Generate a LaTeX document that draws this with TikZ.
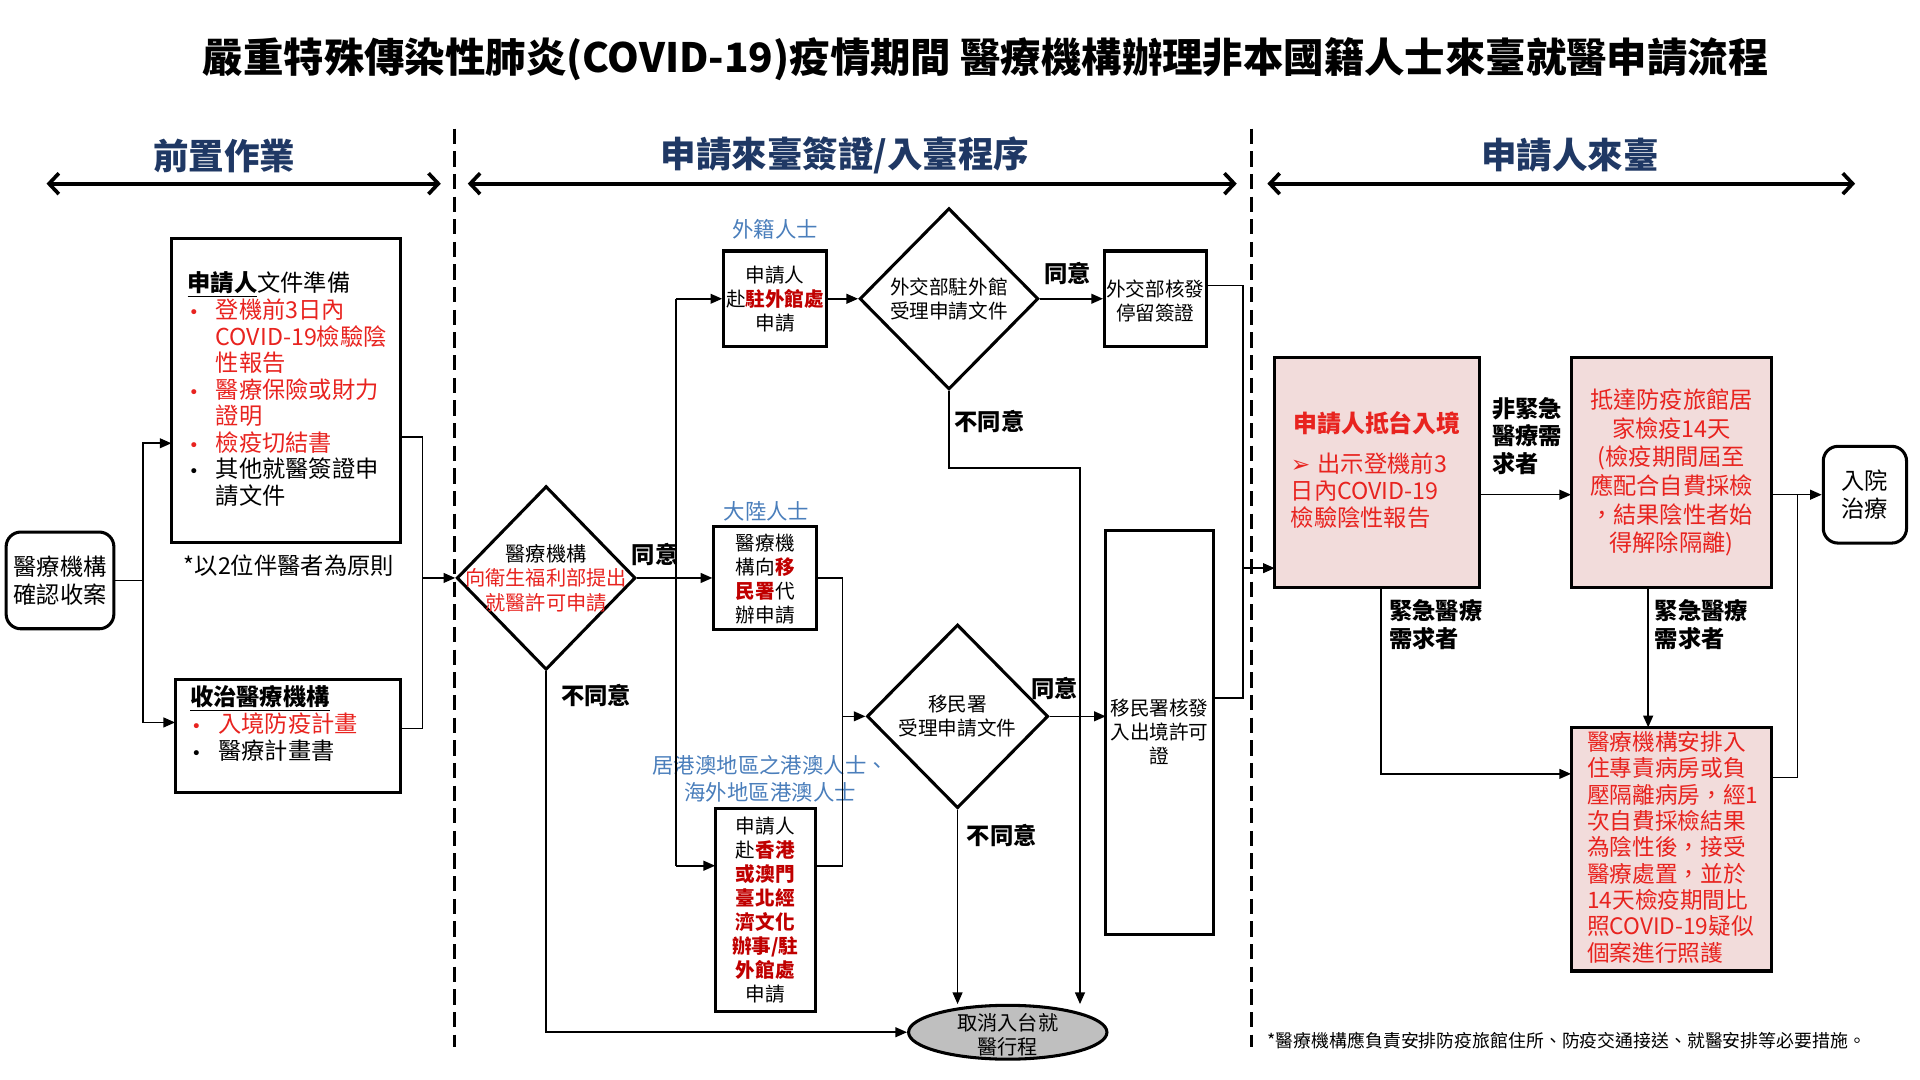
\documentclass[tikz,border=0pt]{standalone}
\usepackage{fontspec}
\setmainfont{Noto Sans CJK TC}
\newfontfamily\dejavu{DejaVu Sans}
\usetikzlibrary{shapes.geometric,arrows.meta}
\definecolor{hdrblue}{HTML}{1F3864}
\definecolor{lblue}{HTML}{4A7EBB}
\definecolor{tred}{HTML}{E8231F}
\definecolor{dred}{HTML}{C00000}
\definecolor{pinkf}{HTML}{F2DCDB}
\definecolor{cgray}{HTML}{BFBFBF}
\newcommand\myb{\makebox[23pt][l]{\hspace{1pt}{\dejavu\fontsize{14}{14}\selectfont •}}}
\newcommand\myi{\hspace*{23pt}}
\newcommand\rb[1]{{\bfseries\color{dred}#1}}
\begin{document}
\begin{tikzpicture}[x=1pt,y=-1pt,
  box/.style={draw, line width=2.5pt, inner sep=0pt},
  pbox/.style={box, fill=pinkf},
  dia/.style={draw, diamond, line width=2.5pt, inner sep=0pt, fill=white},
  ln/.style={line width=1.3pt},
  arr/.style={ln, -{Triangle[length=9.5pt,width=8pt]}},
  dbl/.style={line width=3pt, {Straight Barb[length=8pt,width=17pt]}-{Straight Barb[length=8pt,width=17pt]}},
  divl/.style={line width=2.5pt, dash pattern=on 12.5pt off 6pt},
  hdr/.style={font=\fontsize{29}{32}\selectfont\bfseries, text=hdrblue},
  lab/.style={font=\fontsize{19}{22.5}\selectfont\bfseries, align=left},
  btx/.style={font=\fontsize{16}{19.6}\selectfont, align=center, inner sep=0pt},
  bl/.style={font=\fontsize{17.5}{22}\selectfont, text=lblue, align=center, inner sep=0pt},
  rtx/.style={font=\fontsize{19}{23.4}\selectfont, text=tred, align=center, inner sep=0pt}
]
\useasboundingbox (0,0) rectangle (1568,882);

% title and headers
\node[font=\fontsize{33}{36}\selectfont\bfseries] (title) at (805,48) {嚴重特殊傳染性肺炎(COVID-19)疫情期間 醫療機構辦理非本國籍人士來臺就醫申請流程};
\node[hdr] (h1) at (183,127) {前置作業};
\node[hdr] (h2) at (690,127) {申請來臺簽證/入臺程序};
\node[hdr] (h3) at (1282,127) {申請人來臺};
\coordinate (a1l) at (38,150); \coordinate (a1r) at (360,150);
\coordinate (a2l) at (382,150); \coordinate (a2r) at (1010,150);
\coordinate (a3l) at (1035,150); \coordinate (a3r) at (1515,150);
\draw[dbl] (a1l) -- (a1r);
\draw[dbl] (a2l) -- (a2r);
\draw[dbl] (a3l) -- (a3r);
\coordinate (s1t) at (371,105); \coordinate (s1b) at (371,855);
\coordinate (s2t) at (1022,105); \coordinate (s2b) at (1022,855);
\draw[divl] (s1t) -- (s1b);
\draw[divl] (s2t) -- (s2b);

% pre-work
\node[box, rounded corners=12pt, minimum width=88pt, minimum height=79pt, font=\fontsize{19}{23}\selectfont, align=center] (start) at (49,474) {醫療機構\\確認收案};
\node[box, minimum width=187pt, minimum height=248pt] (docs) at (233.5,319) {};
\node[anchor=north west, align=left, inner sep=0pt, font=\fontsize{19}{21.7}\selectfont] (docst) at (153,222) {%
\underline{\textbf{申請人}}文件準備\\
{\color{tred}\myb 登機前3日內}\\
{\color{tred}\myi COVID-19檢驗陰}\\
{\color{tred}\myi 性報告}\\
{\color{tred}\myb 醫療保險或財力}\\
{\color{tred}\myi 證明}\\
{\color{tred}\myb 檢疫切結書}\\
\myb 其他就醫簽證申\\
\myi 請文件};
\node[anchor=west, inner sep=0pt, font=\fontsize{19}{22}\selectfont] (note2) at (150,462) {*以2位伴醫者為原則};
\node[box, minimum width=184pt, minimum height=92pt] (hosp) at (235,601) {};
\node[anchor=north west, align=left, inner sep=0pt, font=\fontsize{19}{22}\selectfont] (hospt) at (155,560) {%
\underline{\textbf{收治醫療機構}}\\
{\color{tred}\myb 入境防疫計畫}\\
\myb 醫療計畫書};

\coordinate (j1) at (117,474);
\coordinate (docsin) at (140,362);
\coordinate (hospin) at (143,590);
\draw[ln] (start.east) -- (j1);
\draw[arr] (j1) |- (docsin);
\draw[arr] (j1) |- (hospin);
\coordinate (docsout) at (327,357); \coordinate (hospout) at (327,595);
\coordinate (j2t) at (345,357); \coordinate (j2b) at (345,595); \coordinate (j2m) at (345,472);
\draw[ln] (docsout) -- (j2t) -- (j2b) -- (hospout);

% application stage
\node[dia, minimum width=146pt, minimum height=150pt] (d1) at (446,472) {};
\node[btx, font=\fontsize{16.5}{20}\selectfont] (d1t) at (446,472) {醫療機構\\{\color{tred}向衛生福利部提出}\\{\color{tred}就醫許可申請}};
\draw[arr] (j2m) -- (d1.west);
\node[lab] (y1) at (535,453) {同意};
\node[lab] (n1l) at (487,568) {不同意};

\node[bl] (lf) at (633,187) {外籍人士};
\node[box, minimum width=84pt, minimum height=78pt] (fb) at (633,244) {};
\node[btx] (fbt) at (633,244) {申請人\\赴\rb{駐外館處}\\申請};
\node[bl] (lm) at (626,418) {大陸人士};
\node[box, minimum width=84pt, minimum height=84pt] (ml) at (625,472) {};
\node[btx] (mlt) at (625,473) {醫療機\\構向\rb{移}\\\rb{民署}代\\辦申請};
\node[bl] (lh) at (629,636) {居港澳地區之港澳人士、\\海外地區港澳人士};
\node[box, minimum width=82pt, minimum height=166pt] (hk) at (625,743) {};
\node[btx] (hkt) at (625,743.5) {申請人\\赴\rb{香港}\\\rb{或澳門}\\\rb{臺北經}\\\rb{濟文化}\\\rb{辦事/駐}\\\rb{外館處}\\申請};

\coordinate (tt) at (552,244); \coordinate (tb) at (552,707); \coordinate (hkin) at (584,707);
\draw[ln] (tt) -- (tb);
\draw[arr] (d1.east) -- (ml.west);
\draw[arr] (tt) -- (fb.west);
\draw[arr] (tb) -- (hkin);

\node[dia, minimum width=146pt, minimum height=148pt] (d2) at (775,244) {};
\node[btx] (d2t) at (775,244) {外交部駐外館\\受理申請文件};
\draw[arr] (fb.east) -- (d2.west);
\node[lab] (y2) at (872,223) {同意};
\node[box, minimum width=83pt, minimum height=78pt] (vb) at (943.5,244) {};
\node[btx] (vbt) at (943.5,246) {外交部核發\\停留簽證};
\draw[arr] (d2.east) -- (vb.west);
\node[lab] (n2l) at (808,344) {不同意};

\coordinate (m1) at (688,472); \coordinate (m2) at (688,707); \coordinate (hkout) at (666,707); \coordinate (m3) at (688,585);
\draw[ln] (ml.east) -- (m1) -- (m2) -- (hkout);
\node[dia, minimum width=148pt, minimum height=150pt] (d3) at (782,585) {};
\node[btx] (d3t) at (782,585) {移民署\\受理申請文件};
\draw[arr] (m3) -- (d3.west);
\node[lab] (y3) at (861,562) {同意};
\node[lab] (n3l) at (818,682) {不同意};
\node[box, minimum width=88pt, minimum height=330pt] (ib) at (947,598) {};
\node[btx] (ibt) at (947,598) {移民署核發\\入出境許可\\證};
\coordinate (ibin) at (903,585);
\draw[arr] (d3.east) -- (ibin);

\node[draw, ellipse, fill=cgray, line width=2.5pt, minimum width=162pt, minimum height=44pt, inner sep=0pt] (cancel) at (823,843) {};
\node[btx, font=\fontsize{16.5}{20}\selectfont] (cancelt) at (823,845) {取消入台就\\醫行程};
\coordinate (n1a) at (775,382); \coordinate (n1b) at (882,382); \coordinate (c2) at (882,820);
\draw[arr] (d2.south) -- (n1a) -- (n1b) -- (c2);
\coordinate (c1) at (782,820);
\draw[arr] (d3.south) -- (c1);
\draw[arr] (d1.south) |- (cancel.west);

% arrival stage
\coordinate (vbout) at (985,233); \coordinate (v2) at (1015,233); \coordinate (v3) at (1015,570); \coordinate (ibout) at (991,570);
\draw[ln] (vbout) -- (v2) -- (v3) -- (ibout);
\node[pbox, minimum width=167pt, minimum height=188pt] (arrive) at (1124.5,386) {};
\node[rtx, font=\fontsize{19.5}{23}\selectfont\bfseries] (arrt1) at (1124.5,346) {申請人抵台入境};
\node[rtx, anchor=north west, align=left, font=\fontsize{19}{22}\selectfont] (arrt2) at (1054,370) {{\dejavu ➢}\hspace{6pt}出示登機前3\\日內COVID-19\\檢驗陰性報告};
\coordinate (v4) at (1015,464); \coordinate (arrin) at (1041,464);
\draw[arr] (v4) -- (arrin);

\node[lab, anchor=west] (ne) at (1215,356) {非緊急\\醫療需\\求者};
\node[pbox, minimum width=164pt, minimum height=188pt] (qt) at (1365,386) {};
\node[rtx] (qtt) at (1365,386) {抵達防疫旅館居\\家檢疫14天\\(檢疫期間屆至\\應配合自費採檢\\，結果陰性者始\\得解除隔離)};
\coordinate (arrout) at (1208,404); \coordinate (qtin) at (1283,404);
\draw[arr] (arrout) -- (qtin);
\node[box, rounded corners=12pt, minimum width=68pt, minimum height=79pt, font=\fontsize{19}{23}\selectfont, align=center] (ht) at (1523,404) {入院\\治療};
\coordinate (qtout) at (1447,404);
\draw[arr] (qtout) -- (ht.west);

\node[lab, anchor=west] (em1) at (1131,510) {緊急醫療\\需求者};
\node[lab, anchor=west] (em2) at (1348,510) {緊急醫療\\需求者};
\node[pbox, minimum width=164pt, minimum height=199pt] (mb) at (1365,693.5) {};
\node[rtx, anchor=north west, align=left, font=\fontsize{18.5}{21.5}\selectfont] (mbt) at (1296,597) {醫療機構安排入\\住專責病房或負\\壓隔離病房，經1\\次自費採檢結果\\為陰性後，接受\\醫療處置，並於\\14天檢疫期間比\\照COVID-19疑似\\個案進行照護};
\coordinate (e1) at (1128,480); \coordinate (e2) at (1128,632); \coordinate (mbin) at (1283,632);
\draw[arr] (e1) -- (e2) -- (mbin);
\coordinate (q1) at (1346,480); \coordinate (q2) at (1346,594);
\draw[arr] (q1) -- (q2);
\coordinate (mbout) at (1447,635); \coordinate (hh1) at (1468,635); \coordinate (hh2) at (1468,404);
\draw[ln] (mbout) -- (hh1) -- (hh2);

\node[anchor=west, inner sep=0pt, font=\fontsize{14.6}{16}\selectfont] (foot) at (1035,850) {*醫療機構應負責安排防疫旅館住所、防疫交通接送、就醫安排等必要措施。};
\end{tikzpicture}
\end{document}
